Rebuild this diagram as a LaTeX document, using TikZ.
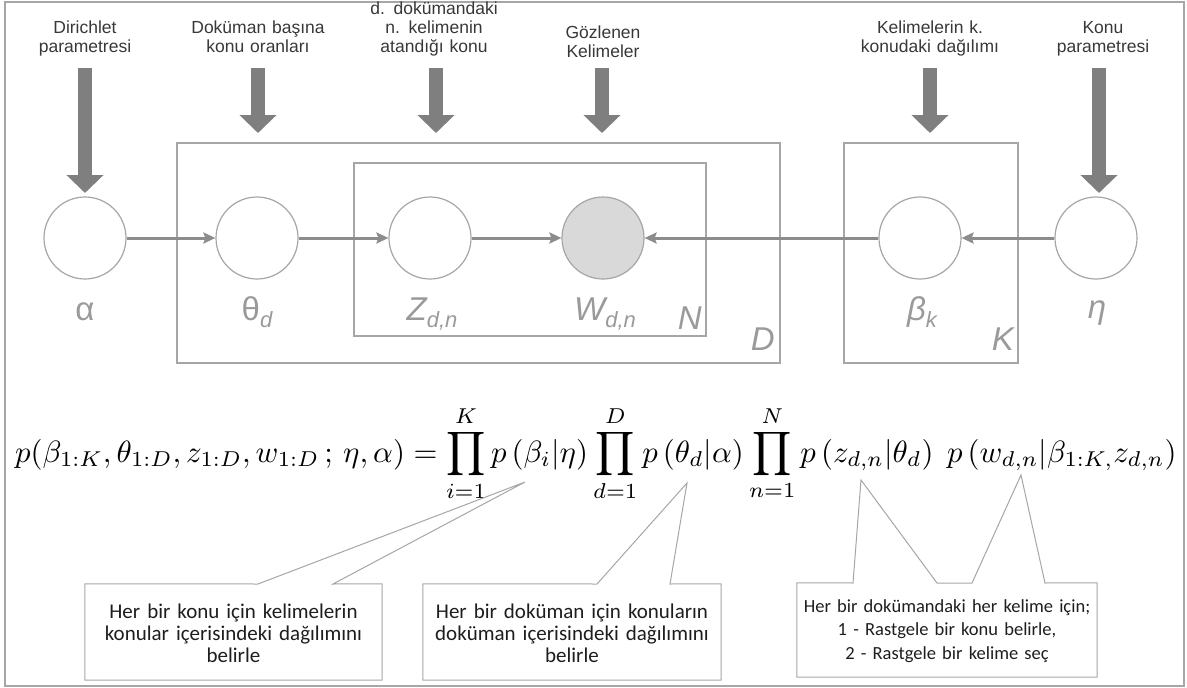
\documentclass[tikz,border=0pt]{standalone}
\usepackage[no-math]{fontspec}
\usepackage{graphicx}
\setmainfont{Liberation Sans}
\newfontfamily\calfont{Carlito}
\usetikzlibrary{arrows.meta}
\definecolor{labdark}{HTML}{383838}
\definecolor{lblgray}{HTML}{9A9A9A}
\definecolor{circgray}{HTML}{A6A6A6}
\definecolor{obsfill}{HTML}{D9D9D9}
\definecolor{plategray}{HTML}{A6A6A6}
\definecolor{edgegray}{HTML}{8C8C8C}
\definecolor{arrowgray}{HTML}{7F7F7F}
\definecolor{boxgray}{HTML}{A6A6A6}
\definecolor{calltext}{HTML}{1E1E1E}
\newcommand\sbs[1]{\raisebox{-7pt}{\fontsize{22}{22}\selectfont #1}}
\begin{document}
\begin{tikzpicture}[x=1pt,y=-1pt,
  toplabel/.style={font=\fontsize{17.5}{20}\selectfont, text=labdark, align=center, text width=220pt, inner sep=0pt, anchor=base},
  var/.style={circle, draw=circgray, line width=1.2pt, fill=white, minimum size=82pt, inner sep=0pt},
  obs/.style={var, fill=obsfill},
  vlabel/.style={font=\fontsize{33}{36}\selectfont, text=lblgray, inner sep=0pt, anchor=base},
  plate/.style={draw=plategray, line width=1.2pt, inner sep=0pt},
  edge/.style={draw=edgegray, line width=3pt, -{Stealth[length=12pt,width=11pt,inset=2pt]}},
  blockarrow/.style={draw=arrowgray, line width=14.5pt, -{Triangle[length=18pt,width=36pt]}},
  callbox/.style={draw=none, inner sep=0pt},
  callout/.style={draw=boxgray, line width=1pt, fill=white, line join=miter},
  calltxt/.style={font=\calfont\fontsize{21}{22}\selectfont, text=calltext, align=center, text width=320pt, inner sep=0pt, anchor=base}
]
\useasboundingbox (0,0) rectangle (1187,688);
\draw[draw=boxgray, line width=1.5pt] (5,2) rectangle (1184,686);

% plates
\node[plate, minimum width=603pt, minimum height=220pt] (plD) at (478.5,253) {};
\node[plate, minimum width=352pt, minimum height=173pt] (plN) at (530,249.5) {};
\node[plate, minimum width=174pt, minimum height=220pt] (plK) at (931,253) {};

% top labels
\node[toplabel] (l1) at (85,33) {Dirichlet\\parametresi};
\node[toplabel] (l2) at (258,33) {Doküman başına\\konu oranları};
\node[toplabel, font=\fontsize{17.5}{19}\selectfont] (l3) at (434,15) {d. dokümandaki\\n. kelimenin\\atandığı konu};
\node[toplabel, font=\fontsize{17.5}{19}\selectfont] (l4) at (603,38) {Gözlenen\\Kelimeler};
\node[toplabel] (l5) at (930,33) {Kelimelerin k.\\konudaki dağılımı};
\node[toplabel] (l6) at (1103,33) {Konu\\parametresi};

% variables
\node[var] (alpha) at (85,238) {};
\node[var] (theta) at (257,238) {};
\node[var] (z) at (430,238) {};
\node[obs] (w) at (603,238) {};
\node[var] (beta) at (920,238) {};
\node[var] (eta) at (1096,238) {};

% variable labels
\node[vlabel] (la) at (85,320) {α};
\node[vlabel] (lt) at (257,320) {θ\sbs{\itshape d}};
\node[vlabel] (lz) at (432,320) {\itshape Z\sbs{d,n}};
\node[vlabel] (lw) at (605,320) {\itshape W\sbs{d,n}};
\node[vlabel] (lb) at (922,320) {\itshape β\sbs{k}};
\node[vlabel] (le) at (1097,318) {\itshape η};
\node[vlabel, anchor=base east] (lN) at (702,329) {\itshape N};
\node[vlabel, anchor=base east] (lD) at (775,350) {\itshape D};
\node[vlabel, anchor=base east] (lK) at (1014,350) {\itshape K};

% block arrows
\coordinate (s1) at (85,68);   \coordinate (e1) at (85,193);
\coordinate (s2) at (258,68);  \coordinate (e2) at (258,133);
\coordinate (s3) at (436,68);  \coordinate (e3) at (436,133);
\coordinate (s4) at (602,68);  \coordinate (e4) at (602,133);
\coordinate (s5) at (930,68);  \coordinate (e5) at (930,133);
\coordinate (s6) at (1099,68); \coordinate (e6) at (1099,193);
\foreach \i in {1,...,6}{\draw[blockarrow] (s\i) -- (e\i);}

% edges
\draw[edge] (alpha) -- (theta);
\draw[edge] (theta) -- (z);
\draw[edge] (z) -- (w);
\draw[edge] (beta) -- (w);
\draw[edge] (eta) -- (beta);

% formula
\node[anchor=base west, inner sep=0pt] (formula) at (15,462) {\resizebox{1161pt}{!}{$\displaystyle
 p(\beta_{1{:}K},\theta_{1{:}D},z_{1{:}D},w_{1{:}D}\,;\,\eta,\alpha)=\prod_{i=1}^{K}p\,(\beta_i|\eta)\prod_{d=1}^{D}p\,(\theta_d|\alpha)\prod_{n=1}^{N}p\left(z_{d,n}|\theta_d\right)\;p\left(w_{d,n}|\beta_{1{:}K,}z_{d,n}\right)$}};

% callouts
\node[callbox, minimum width=297pt, minimum height=96pt] (b1) at (233.5,632) {};
\node[callbox, minimum width=298pt, minimum height=96pt] (b2) at (572,632) {};
\node[callbox, minimum width=300pt, minimum height=94pt] (b3) at (947,630) {};
\coordinate (tip1) at (525,482);
\coordinate (tip2) at (687,483);
\coordinate (tip3) at (861,480);
\coordinate (tip4) at (1021,475);
\draw[callout] (b1.north west) -- (258,584) -- (tip1) -- (333,584) -- (b1.north east) -- (b1.south east) -- (b1.south west) -- cycle;
\draw[callout] (b2.north west) -- (597,584) -- (tip2) -- (670,584) -- (b2.north east) -- (b2.south east) -- (b2.south west) -- cycle;
\draw[callout] (b3.north west) -- (853,583) -- (tip3) -- (937,583) -- (972,583) -- (tip4) -- (1045,583) -- (b3.north east) -- (b3.south east) -- (b3.south west) -- cycle;
\node[calltxt] (t1) at (233.5,618) {Her bir konu için kelimelerin\\konular içerisindeki dağılımını\\belirle};
\node[calltxt] (t2) at (572,618) {Her bir doküman için konuların\\doküman içerisindeki dağılımını\\belirle};
\node[calltxt, font=\calfont\fontsize{18.5}{23.5}\selectfont] (t3) at (947,612) {Her bir dokümandaki her kelime için;\\1 - Rastgele bir konu belirle,\\2 - Rastgele bir kelime seç};
\end{tikzpicture}
\end{document}
